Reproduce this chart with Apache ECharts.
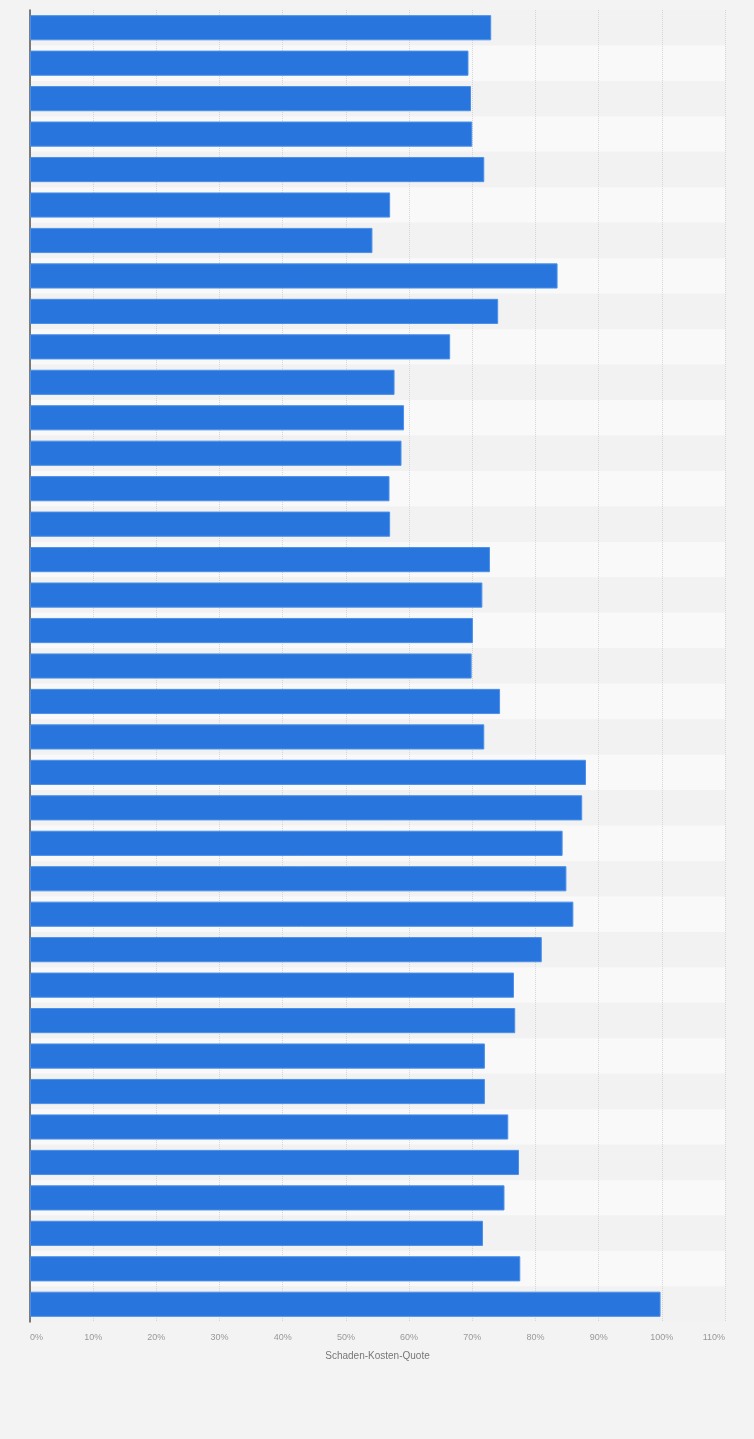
<!DOCTYPE html>
<html>
<head>
<meta charset="utf-8">
<script src="https://cdn.jsdelivr.net/npm/echarts@6/dist/echarts.min.js"></script>
<style>
  html, body { margin: 0; padding: 0; background: #f3f3f3; }
  #main { width: 754px; height: 1439px; }
</style>
</head>
<body>
<div id="main"></div>
<script>
// rows top to bottom (labels are hidden in the original)
var categories = [];
for (var i = 1; i <= 37; i++) categories.push(String(i));

// Schaden-Kosten-Quote in %
var quote = [
  73.0, 69.4, 69.8, 70.0, 71.9, 57.0, 54.2, 83.5, 74.1, 66.5,
  57.7, 59.2, 58.8, 56.9, 57.0, 72.8, 71.6, 70.1, 69.9, 74.4,
  71.9, 88.0, 87.4, 84.3, 84.9, 86.0, 81.0, 76.6, 76.8, 72.0,
  72.0, 75.7, 77.4, 75.1, 71.7, 77.6, 99.8
];

var xTicks = { min: 0, max: 110, interval: 10 };
var axisName = 'Schaden-Kosten-Quote';

var chart = echarts.init(document.getElementById('main'), null, { renderer: 'canvas' });

var option = {
  backgroundColor: '#f3f3f3',
  animation: false,
  grid: { left: 30, right: 29, top: 10, bottom: 117, containLabel: false },
  xAxis: {
    type: 'value',
    min: xTicks.min,
    max: xTicks.max,
    interval: xTicks.interval,
    name: axisName,
    nameLocation: 'middle',
    nameGap: 29,
    nameTextStyle: { color: '#777', fontSize: 10, fontFamily: 'Liberation Sans, Arial, sans-serif' },
    axisLine: { show: false },
    axisTick: { show: false },
    axisLabel: {
      formatter: '{value}%',
      color: '#999',
      fontSize: 9,
      margin: 11,
      alignMinLabel: 'left',
      alignMaxLabel: 'right',
      fontFamily: 'Liberation Sans, Arial, sans-serif'
    },
    splitLine: { show: true, lineStyle: { color: '#d6d6d6', type: [1, 1], width: 1 } }
  },
  yAxis: {
    type: 'category',
    data: categories,
    inverse: true,
    axisLine: { show: true, lineStyle: { color: '#555', width: 1.5 } },
    axisTick: { show: false },
    axisLabel: { show: false },
    splitArea: { show: true, areaStyle: { color: ['#f2f2f2', '#f9f9f9'] } }
  },
  series: [{
    type: 'bar',
    data: quote,
    barCategoryGap: '29%',
    itemStyle: { color: '#2876dd', borderColor: '#4d90e8', borderWidth: 1 }
  }]
};

chart.setOption(option);
</script>
</body>
</html>
